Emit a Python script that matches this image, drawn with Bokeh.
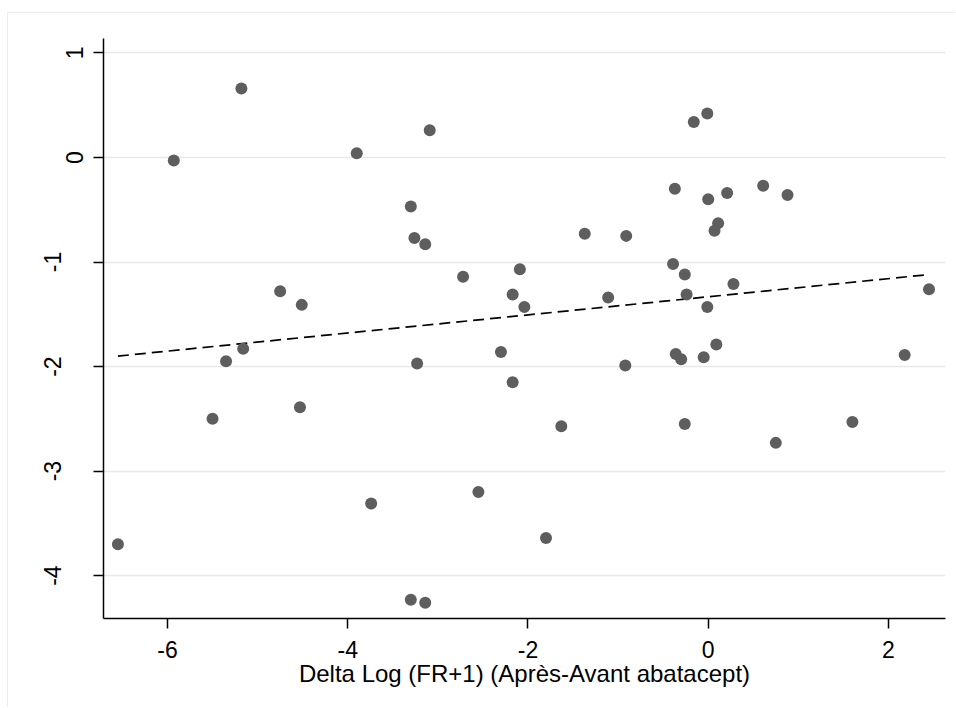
from bokeh.plotting import figure
from bokeh.models import Range1d, FixedTicker
from bokeh.embed import file_html
from bokeh.resources import INLINE

# Data
delta_log_fr = [-5.18, -5.93, -4.75, -4.51, -5.16, -5.35, -5.50, -4.53, -6.55,
                -3.90, -3.09, -3.30, -3.26, -3.14, -1.37, -2.72, -2.09, -2.17,
                -2.04, -2.30, -3.23, -2.17, -0.92, -0.36, -0.30, -0.05, 0.09,
                2.18, -1.63, -0.26, 0.75, 1.60, -3.74, -2.55, -1.80, -3.30,
                -3.14, -0.16, -0.01, -0.37, 0.00, 0.21, 0.61, 0.88, 0.11,
                0.07, -0.91, -0.39, -0.26, 0.28, -1.11, -0.24, -0.01, 2.45]
delta_y = [0.66, -0.03, -1.28, -1.41, -1.83, -1.95, -2.50, -2.39, -3.70,
           0.04, 0.26, -0.47, -0.77, -0.83, -0.73, -1.14, -1.07, -1.31,
           -1.43, -1.86, -1.97, -2.15, -1.99, -1.88, -1.93, -1.91, -1.79,
           -1.89, -2.57, -2.55, -2.73, -2.53, -3.31, -3.20, -3.64, -4.23,
           -4.26, 0.34, 0.42, -0.30, -0.40, -0.34, -0.27, -0.36, -0.63,
           -0.70, -0.75, -1.02, -1.12, -1.21, -1.34, -1.31, -1.43, -1.26]
fit_x = [-6.55, 2.45]
fit_y = [-1.90, -1.12]
x_ticks = [-6, -4, -2, 0, 2]
x_tick_labels = ["-6", "-4", "-2", "0", "2"]
y_ticks = [-4, -3, -2, -1, 0, 1]
y_tick_labels = ["-4", "-3", "-2", "-1", "0", "1"]
x_title = "Delta Log (FR+1) (Après-Avant abatacept)"

FONT = "Liberation Sans"

p = figure(width=948, height=695, output_backend="svg", toolbar_location=None,
           x_range=Range1d(-6.71, 2.633), y_range=Range1d(-4.41, 1.138),
           min_border_left=95, min_border_top=25, min_border_right=11,
           min_border_bottom=90)
p.outline_line_color = None
p.background_fill_color = "white"
p.border_fill_color = "white"

p.xgrid.visible = False
p.ygrid.ticker = FixedTicker(ticks=y_ticks)
p.ygrid.grid_line_color = "#e8e8e8"
p.ygrid.grid_line_width = 1.5

# x axis
xa = p.xaxis[0]
xa.ticker = FixedTicker(ticks=x_ticks)
xa.major_label_overrides = {t: lab for t, lab in zip(x_ticks, x_tick_labels)}
xa.axis_label = x_title
xa.axis_label_text_font = FONT
xa.axis_label_text_font_size = "24px"
xa.axis_label_text_font_style = "normal"
xa.axis_label_text_color = "black"
xa.axis_label_standoff = -1
xa.major_label_text_font = FONT
xa.major_label_text_font_size = "23px"
xa.major_label_text_color = "black"
xa.major_label_standoff = 12
xa.major_tick_out = 10
xa.major_tick_in = 0
xa.minor_tick_out = 0
xa.minor_tick_in = 0
xa.axis_line_width = 1.5
xa.major_tick_line_width = 1.5

# y axis
ya = p.yaxis[0]
ya.ticker = FixedTicker(ticks=y_ticks)
ya.major_label_overrides = {t: (lab + "\n" if t < 0 else lab)
                            for t, lab in zip(y_ticks, y_tick_labels)}
ya.major_label_orientation = "vertical"
ya.major_label_text_font = FONT
ya.major_label_text_font_size = "23px"
ya.major_label_text_line_height = 0.87
ya.major_label_text_color = "black"
ya.major_label_standoff = 5
ya.major_tick_out = 10
ya.major_tick_in = 0
ya.minor_tick_out = 0
ya.minor_tick_in = 0
ya.axis_line_width = 1.5
ya.major_tick_line_width = 1.5

p.line(fit_x, fit_y, line_color="black", line_width=1.7, line_dash="11 6")
p.scatter(delta_log_fr, delta_y, size=12, fill_color="#5e5e5e",
          line_color="#5e5e5e", line_width=0)

p.styles = {"margin-left": "7px", "margin-top": "12px",
            "border-top": "1px solid #ececec", "border-left": "1px solid #ececec"}

open("out.html", "w").write(file_html(p, INLINE))
